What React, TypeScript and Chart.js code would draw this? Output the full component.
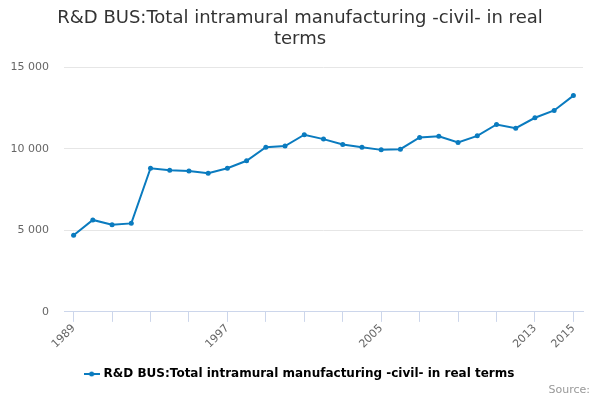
import React, { useEffect, useRef } from "react";
import { Chart, registerables } from "chart.js";

Chart.register(...registerables);

const years: number[] = [
  1989, 1990, 1991, 1992, 1993, 1994, 1995, 1996, 1997, 1998, 1999, 2000, 2001,
  2002, 2003, 2004, 2005, 2006, 2007, 2008, 2009, 2010, 2011, 2012, 2013, 2014, 2015,
];
const values: number[] = [
  4700, 5640, 5350, 5430, 8810, 8690, 8650, 8510, 8810, 9270, 10100, 10170, 10870,
  10600, 10270, 10100, 9940, 9980, 10700, 10780, 10390, 10800, 11500, 11270, 11910, 12360, 13270,
];
const shownYearLabels: number[] = [1989, 1997, 2005, 2013, 2015];
const yTicks: number[] = [0, 5000, 10000, 15000];
const seriesName = "R&D BUS:Total intramural manufacturing -civil- in real terms";
const titleLines: string[] = ["R&D BUS:Total intramural manufacturing -civil- in real", "terms"];
const sourceText = "Source:";

const LINE_COLOR = "#0a7bbf";
const FONT = "'DejaVu Sans', sans-serif";

function makeLegendMarker(): HTMLCanvasElement {
  const c = document.createElement("canvas");
  c.width = 16;
  c.height = 6;
  const ctx = c.getContext("2d")!;
  ctx.strokeStyle = LINE_COLOR;
  ctx.lineWidth = 2;
  ctx.beginPath();
  ctx.moveTo(0, 3);
  ctx.lineTo(16, 3);
  ctx.stroke();
  ctx.fillStyle = LINE_COLOR;
  ctx.beginPath();
  ctx.arc(8, 3, 2.5, 0, Math.PI * 2);
  ctx.fill();
  return c;
}

const formatThousands = (v: number) =>
  String(v).replace(/\B(?=(\d{3})+(?!\d))/g, " ");

export default function App() {
  const ref = useRef<HTMLCanvasElement | null>(null);

  useEffect(() => {
    document.body.style.margin = "0";
    if (!ref.current) return;
    const marker = makeLegendMarker();
    const sourcePlugin = {
      id: "sourceText",
      afterDraw(chart: any) {
        const ctx = chart.ctx;
        ctx.save();
        ctx.font = `11px ${FONT}`;
        ctx.fillStyle = "#999999";
        ctx.textAlign = "right";
        ctx.textBaseline = "middle";
        ctx.fillText(sourceText, chart.width - 10, 390);
        ctx.restore();
      },
    };
    const chart = new Chart(ref.current, {
      type: "line",
      data: {
        datasets: [
          {
            label: seriesName,
            data: years.map((y, i) => ({ x: y, y: values[i] })),
            borderColor: LINE_COLOR,
            backgroundColor: LINE_COLOR,
            borderWidth: 2,
            pointRadius: 2.5,
            pointBorderWidth: 0,
            pointHoverRadius: 3,
            pointStyle: "circle",
            tension: 0,
          },
        ],
      },
      options: {
        animation: false,
        responsive: false,
        layout: { padding: { top: 6, left: 10, right: 10, bottom: 10 } },
        scales: {
          x: {
            type: "linear",
            min: 1988.5,
            max: 2015.5,
            afterBuildTicks: (axis: any) => {
              const t = [];
              for (let y = 1989; y <= 2015; y += 2) t.push({ value: y });
              axis.ticks = t;
            },
            afterFit: (axis: any) => {
              axis.paddingLeft = 0;
              axis.paddingRight = 17;
            },
            ticks: {
              autoSkip: false,
              minRotation: 45,
              maxRotation: 45,
              color: "#666666",
              font: { family: FONT, size: 11 },
              padding: 0,
              callback: (v: any) => (shownYearLabels.includes(Number(v)) ? String(v) : ""),
            },
            grid: {
              drawOnChartArea: false,
              drawTicks: true,
              tickLength: 10,
              color: "#ccd6eb",
            },
            border: { color: "#ccd6eb", width: 1 },
          },
          y: {
            min: 0,
            max: 15000,
            afterBuildTicks: (axis: any) => {
              axis.ticks = yTicks.map((v) => ({ value: v }));
            },
            afterFit: (axis: any) => {
              axis.width = 54;
            },
            ticks: {
              color: "#666666",
              font: { family: FONT, size: 11 },
              padding: 15,
              callback: (v: any) => formatThousands(Number(v)),
            },
            grid: { color: "#e6e6e6", drawTicks: false },
            border: { display: false },
          },
        },
        plugins: {
          title: {
            display: true,
            text: titleLines,
            color: "#333333",
            font: { family: FONT, size: 18, weight: "normal" as any, lineHeight: 1.15 },
            padding: { top: 2, bottom: 18 },
          },
          legend: {
            display: true,
            position: "bottom",
            labels: {
              usePointStyle: true,
              color: "#333333",
              font: { family: FONT, size: 12, weight: "bold" as any },
              padding: 17,
              generateLabels: () => [
                {
                  text: seriesName,
                  pointStyle: marker as any,
                  fillStyle: LINE_COLOR,
                  strokeStyle: LINE_COLOR,
                  lineWidth: 0,
                  hidden: false,
                  datasetIndex: 0,
                } as any,
              ],
            },
          },
          tooltip: { enabled: false },
        },
      },
      plugins: [sourcePlugin],
    });
    return () => chart.destroy();
  }, []);

  return (
    <div style={{ width: 600, height: 400, background: "#fff" }}>
      <canvas ref={ref} width={600} height={400} style={{ width: 600, height: 400 }} />
    </div>
  );
}
